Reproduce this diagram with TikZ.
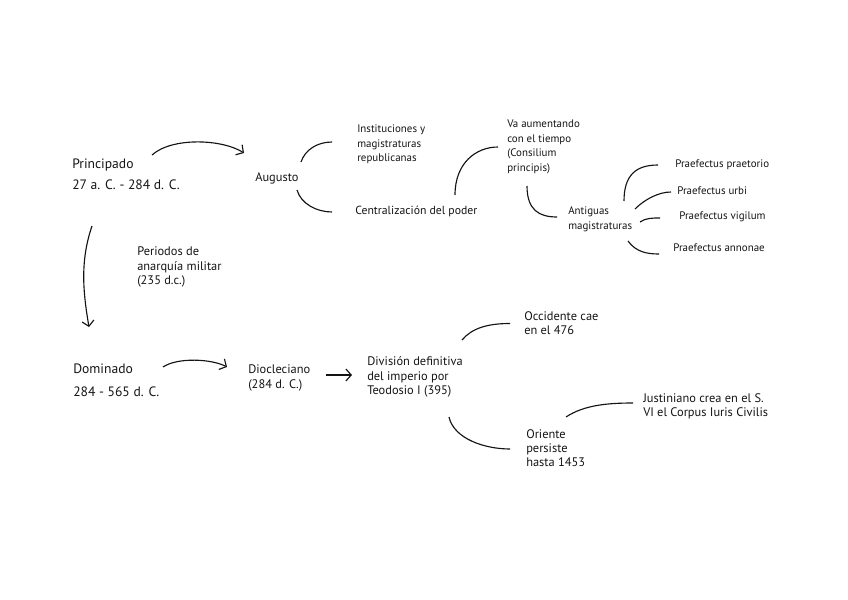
\documentclass[tikz,border=0pt]{standalone}
\usepackage{fontspec}
\setmainfont{PT Sans}
\usetikzlibrary{arrows.meta,positioning}
\definecolor{ink}{RGB}{20,20,20}

\begin{document}
\begin{tikzpicture}[
  x=0.75pt,y=-0.75pt,
  txt/.style={inner sep=0pt,anchor=west,align=left,text=ink},
  era/.style={txt,font=\fontsize{10.2}{16}\selectfont},
  mid/.style={txt,font=\fontsize{9.3}{10.6}\selectfont},
  tiny/.style={txt,font=\fontsize{8.2}{11}\selectfont},
  con/.style={draw=ink,line width=0.85pt},
  arrow/.style={con,-{Straight Barb[length=4pt,width=9pt]}},
]
\useasboundingbox (0,0) rectangle (848,599);

% Principado
\node[era] (princ) at (72,174) {Principado\\27 a. C. - 284 d. C.};
\node[mid] (aug)   at (255,178) {Augusto};
\node[tiny] (inst) at (357,144.5) {Instituciones y\\magistraturas\\republicanas};
\node[tiny,font=\fontsize{8.8}{11}\selectfont] (central) at (355,211) {Centralización del poder};
\node[tiny] (va)   at (507,147) {Va aumentando\\con el tiempo\\(Consilium\\principis)};
\node[tiny] (ant)  at (568,219.5) {Antiguas\\magistraturas};

% Praefecti
\node[tiny] (praet) at (675,165) {Praefectus praetorio};
\node[tiny] (urbi)  at (677,191) {Praefectus urbi};
\node[tiny] (vig)   at (679,217) {Praefectus vigilum};
\node[tiny] (annon) at (673,248) {Praefectus annonae};

% Dominado
\node[mid] (anarq) at (137,267) {Periodos de\\anarquía militar\\(235 d.c.)};
\node[era,font=\fontsize{10.2}{17}\selectfont] (dom) at (73,380) {Dominado\\284 - 565 d. C.};
\node[mid] (dio)   at (248,378) {Diocleciano\\(284 d. C.)};
\node[mid] (divis) at (367,377) {División definitiva\\del imperio por\\Teodosio I (395)};
\node[mid] (occ)   at (524,323.5) {Occidente cae\\en el 476};
\node[mid] (ori)   at (526,448.5) {Oriente\\persiste\\hasta 1453};
\node[mid] (just)  at (643,406.5) {Justiniano crea en el S.\\VI el Corpus Iuris Civilis};

% Upper branch
\draw[arrow] ([shift={(80,-19)}]princ.west) .. controls +(20,-18) and +(-22,-14) .. ([shift={(-11,-25)}]aug.west);
\draw[con] ([shift={(46,-16)}]aug.west) .. controls +(4,-12) and +(-15,0) .. ([shift={(-25,-2.5)}]inst.west);
\draw[con] ([shift={(42,12)}]aug.west) .. controls +(4,14) and +(-15,0) .. ([shift={(-23,1)}]central.west);
\draw[con] ([shift={(100,-16)}]central.west) .. controls +(0,-32) and +(-22,0) .. ([shift={(-9,0)}]va.west);
\draw[con] ([shift={(20,39)}]va.west) .. controls +(0,24) and +(-18,0) .. ([shift={(-11,-2.5)}]ant.west);
\draw[con] ([shift={(56,-18.5)}]ant.west) .. controls +(0,-26) and +(-22,0) .. ([shift={(-17,0)}]praet.west);
\draw[con] ([shift={(67,-10.5)}]ant.west) .. controls +(10,-10) and +(-12,0) .. ([shift={(-6,1)}]urbi.west);
\draw[con] ([shift={(72,2.5)}]ant.west) .. controls +(6,-4) and +(-8,0) .. ([shift={(-19,1)}]vig.west);
\draw[con] ([shift={(60,21.5)}]ant.west) .. controls +(8,11) and +(-12,0) .. ([shift={(-14,6)}]annon.west);

% Lower branch
\draw[arrow] ([shift={(20,52)}]princ.west) .. controls +(-12,35) and +(-6,-35) .. ([shift={(16,-53)}]dom.west);
\draw[arrow] ([shift={(90,-13)}]dom.west) .. controls +(15,-10) and +(-15,-8) .. ([shift={(-21,-11)}]dio.west);
\draw[arrow] ([shift={(78,-3)}]dio.west) -- ([shift={(-15,-2)}]divis.west);
\draw[con] ([shift={(95,-37)}]divis.west) .. controls +(10,-12) and +(-22,0) .. ([shift={(-14,0)}]occ.west);
\draw[con] ([shift={(82,40)}]divis.west) .. controls +(5,22) and +(-25,0) .. ([shift={(-16,0.5)}]ori.west);
\draw[con] ([shift={(40,-31.5)}]ori.west) .. controls +(18,-12) and +(-25,0) .. ([shift={(-10,-3.5)}]just.west);
\end{tikzpicture}
\end{document}
